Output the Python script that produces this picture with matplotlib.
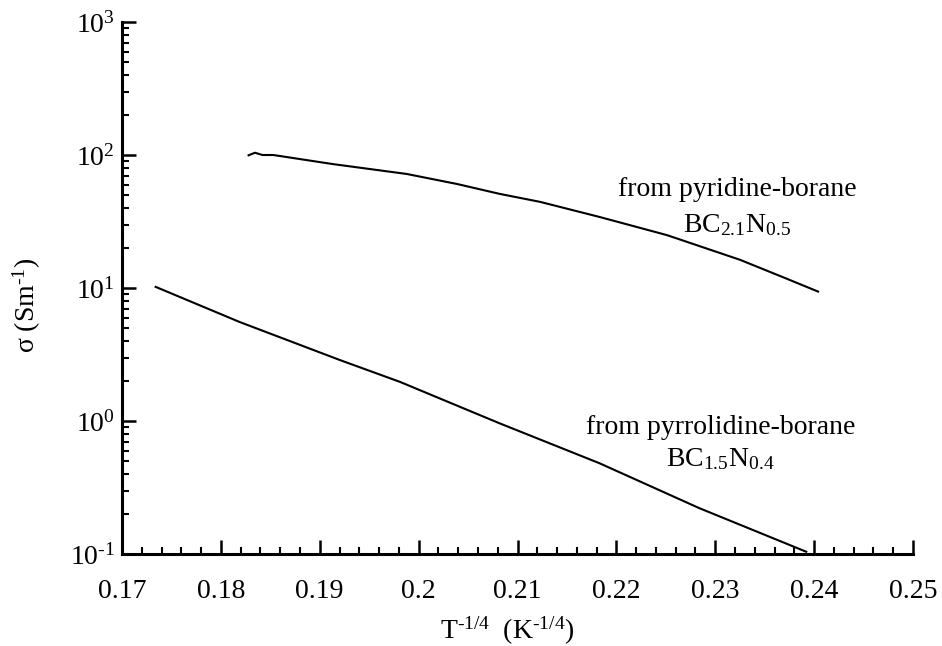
import numpy as np
import matplotlib
matplotlib.use("Agg")
import matplotlib.pyplot as plt
from matplotlib.ticker import FixedLocator, FixedFormatter, LogLocator, NullFormatter

plt.rcParams['font.family'] = ['Liberation Serif', 'DejaVu Serif']
plt.rcParams['mathtext.fontset'] = 'custom'
plt.rcParams['mathtext.rm'] = 'Liberation Serif'
plt.rcParams['mathtext.it'] = 'Liberation Serif:italic'
plt.rcParams['mathtext.bf'] = 'Liberation Serif:bold'

# pyridine-borane derived BC2.1N0.5
x_pyridine = [0.1828, 0.18345, 0.1842, 0.1853, 0.1913, 0.1988, 0.2039, 0.2082,
              0.2123, 0.2183, 0.2251, 0.2325, 0.2368, 0.2404]
y_pyridine = [99.5, 104.0, 100.0, 100.0, 85.5, 72.0, 60.5, 51.0,
              44.4, 34.2, 25.0, 16.3, 12.1, 9.4]

# pyrrolidine-borane derived BC1.5N0.4
x_pyrrolidine = [0.1734, 0.1819, 0.1920, 0.1981, 0.2082, 0.2183, 0.2284, 0.2392]
y_pyrrolidine = [10.2, 5.55, 2.88, 1.97, 0.96, 0.481, 0.221, 0.104]

xticks = [0.17, 0.18, 0.19, 0.20, 0.21, 0.22, 0.23, 0.24, 0.25]
xtick_labels = ["0.17", "0.18", "0.19", "0.2", "0.21", "0.22", "0.23", "0.24", "0.25"]
yticks = [0.1, 1, 10, 100, 1000]
ytick_labels = ["$10^{\\mathrm{\u20101}}$", r"$10^{0}$", r"$10^{1}$", r"$10^{2}$", r"$10^{3}$"]

fig = plt.figure(figsize=(9.42, 6.46), dpi=100)
ax = fig.add_axes([122 / 942, 92 / 646, 791 / 942, 532 / 646])

ax.plot(x_pyridine, y_pyridine, color='black', lw=1.5)
ax.plot(x_pyrrolidine, y_pyrrolidine, color='black', lw=1.5)

ax.set_yscale('log')
ax.set_xlim(0.17, 0.25)
ax.set_ylim(0.1, 1000)

ax.xaxis.set_major_locator(FixedLocator(xticks))
ax.xaxis.set_major_formatter(FixedFormatter(xtick_labels))
ax.xaxis.set_minor_locator(FixedLocator(np.arange(0.17, 0.2501, 0.002)))
ax.yaxis.set_major_locator(FixedLocator(yticks))
ax.yaxis.set_major_formatter(FixedFormatter(ytick_labels))
ax.yaxis.set_minor_locator(LogLocator(base=10, subs=np.arange(2, 10), numticks=20))
ax.yaxis.set_minor_formatter(NullFormatter())

for side in ['top', 'right']:
    ax.spines[side].set_visible(False)
for side in ['left', 'bottom']:
    ax.spines[side].set_linewidth(2.2)

ax.tick_params(which='major', direction='in', length=10, width=1.8, labelsize=20)
ax.tick_params(which='minor', direction='in', length=5, width=1.5)
ax.tick_params(axis='x', which='major', pad=18)
ax.tick_params(axis='y', which='major', pad=5)

ax.text(0.2322, 55, "from pyridine-borane", fontsize=20, ha='center', va='center')
ax.text(0.2322, 29.5, r"$\mathrm{BC_{2.1}N_{0.5}}$", fontsize=20, ha='center', va='center')
ax.text(0.2305, 0.90, "from pyrrolidine-borane", fontsize=20, ha='center', va='center')
ax.text(0.2305, 0.52, r"$\mathrm{BC_{1.5}N_{0.4}}$", fontsize=20, ha='center', va='center')

fig.text(27 / 942, 1 - 305 / 646, "σ (Sm$^{\\mathrm{\u20101}}$)", fontsize=20,
         rotation=90, ha='center', va='center')
fig.text(507 / 942, 1 - 631 / 646, "T$^{\\mathrm{\u20101/4}}$  (K$^{\\mathrm{\u20101/4}}$)",
         fontsize=20, ha='center', va='center')

fig.savefig("out.png", dpi=100)
